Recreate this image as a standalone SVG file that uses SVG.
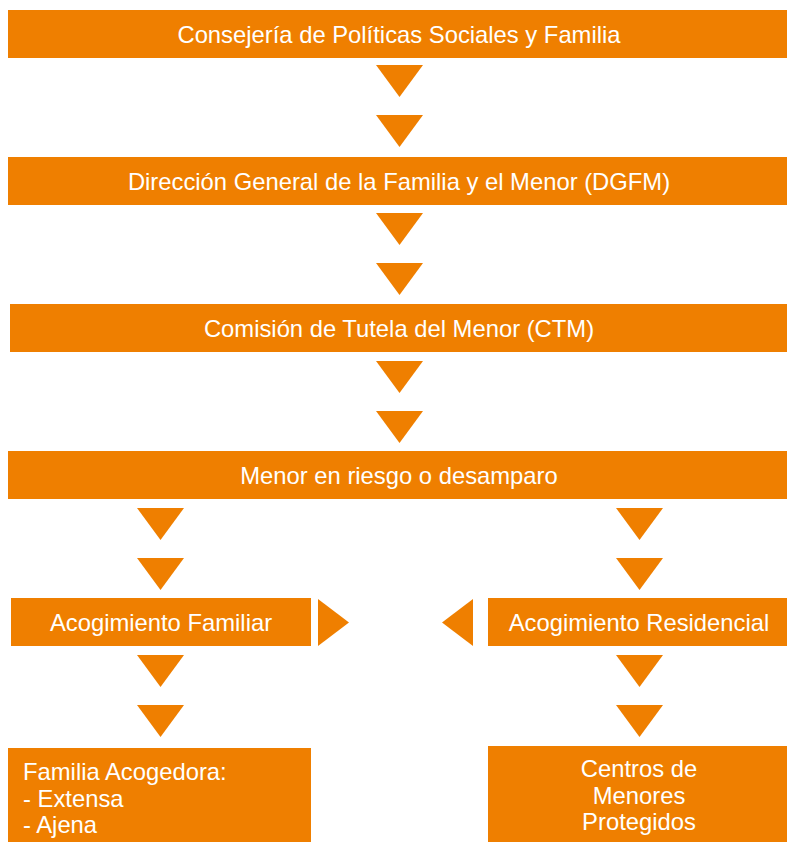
<svg xmlns="http://www.w3.org/2000/svg" width="787" height="842" viewBox="0 0 787 842">
<style>
.box{fill:#ef7f00}
.tri{fill:#ef7f00}
text{font-family:"Liberation Sans",Arial,Helvetica,sans-serif;font-size:23.8px;fill:#ffffff}
.c{text-anchor:middle}
</style>
<rect width="787" height="842" fill="#ffffff"/>
<g id="n-consejeria">
<rect class="box" x="8" y="10" width="779" height="48"/>
<text class="c" x="399" y="43">Consejería de Políticas Sociales y Familia</text>
</g>
<g id="n-dgfm">
<rect class="box" x="8" y="157" width="779" height="48"/>
<text class="c" x="399" y="190">Dirección General de la Familia y el Menor (DGFM)</text>
</g>
<g id="n-ctm">
<rect class="box" x="10" y="304" width="777" height="48"/>
<text class="c" x="399" y="337">Comisión de Tutela del Menor (CTM)</text>
</g>
<g id="n-menor">
<rect class="box" x="8" y="451" width="779" height="48"/>
<text class="c" x="399" y="484">Menor en riesgo o desamparo</text>
</g>
<g id="n-familiar">
<rect class="box" x="11" y="598" width="300" height="48"/>
<text class="c" x="161" y="631">Acogimiento Familiar</text>
</g>
<g id="n-residencial">
<rect class="box" x="488" y="598" width="299" height="48"/>
<text class="c" x="639" y="631">Acogimiento Residencial</text>
</g>
<g id="n-acogedora">
<rect class="box" x="8" y="748" width="303" height="94"/>
<text x="23" y="780">Familia Acogedora:</text>
<text x="23" y="807">- Extensa</text>
<text x="23" y="833">- Ajena</text>
</g>
<g id="n-centros">
<rect class="box" x="488" y="746" width="299" height="96"/>
<text class="c" x="639" y="777">Centros de</text>
<text class="c" x="639" y="804">Menores</text>
<text class="c" x="639" y="830">Protegidos</text>
</g>
<g id="connectors">
<polygon class="tri" points="376,65 423,65 399.5,97"/>
<polygon class="tri" points="376,115 423,115 399.5,147"/>
<polygon class="tri" points="376,213 423,213 399.5,245"/>
<polygon class="tri" points="376,263 423,263 399.5,295"/>
<polygon class="tri" points="376,361 423,361 399.5,393"/>
<polygon class="tri" points="376,411 423,411 399.5,443"/>
<polygon class="tri" points="137,508 184,508 160.5,540"/>
<polygon class="tri" points="137,558 184,558 160.5,590"/>
<polygon class="tri" points="616,508 663,508 639.5,540"/>
<polygon class="tri" points="616,558 663,558 639.5,590"/>
<polygon class="tri" points="318,599 349,622.5 318,646"/>
<polygon class="tri" points="473,599 442,622.5 473,646"/>
<polygon class="tri" points="137,655 184,655 160.5,687"/>
<polygon class="tri" points="137,705 184,705 160.5,737"/>
<polygon class="tri" points="616,655 663,655 639.5,687"/>
<polygon class="tri" points="616,705 663,705 639.5,737"/>
</g>
</svg>
